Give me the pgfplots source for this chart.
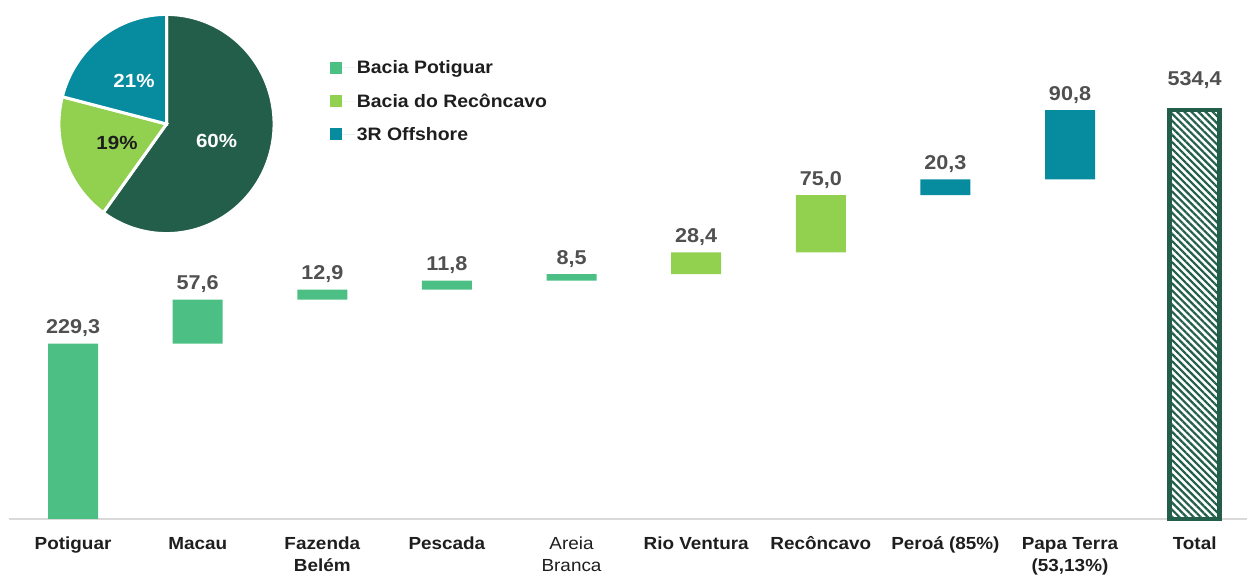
\documentclass[border=0pt]{standalone}
\usepackage{pgfplots}
\pgfplotsset{compat=1.18}
\usepackage{pgfplotstable}
\usepackage{fontspec}
\setmainfont[FakeStretch=1.08]{Liberation Sans}
\usetikzlibrary{patterns.meta}

\definecolor{cPot}{HTML}{4CC084}
\definecolor{cRec}{HTML}{92D050}
\definecolor{cOff}{HTML}{068B9F}
\definecolor{cDark}{HTML}{225E4A}
\definecolor{cVal}{HTML}{505050}
\definecolor{cCat}{HTML}{1E1E1E}
\definecolor{cAxis}{HTML}{D9D9D9}

% waterfall: invisible base + increments per group
\pgfplotstableread{
x base pot rec off
0 0 229.3 0 0
1 229.3 57.6 0 0
2 286.9 12.9 0 0
3 299.8 11.8 0 0
4 311.6 8.5 0 0
5 320.1 0 28.4 0
6 348.5 0 75.0 0
7 423.5 0 0 20.3
8 443.8 0 0 90.8
}\wf

\pgfplotstableread{
x top lab
0 229.3 229,3
1 286.9 57,6
2 299.8 12,9
3 311.6 11,8
4 320.1 8,5
5 348.5 28,4
6 423.5 75,0
7 443.8 20,3
8 534.6 90,8
}\labels

\pgfplotstableread{
x total lab
9 534.4 534,4
}\tot

% pie shares (%)
\def\pA{60}\def\pB{19}\def\pC{21}
\pgfmathsetmacro\angA{90-3.6*\pA}
\pgfmathsetmacro\angB{90-3.6*(\pA+\pB)}
\pgfmathsetmacro\angC{90-3.6*(\pA+\pB+\pC)}

\pgfplotstableread{
x y p
0.47 -0.157 60
-0.305 0.396 21
}\pielabW
\pgfplotstableread{
x y p
-0.465 -0.175 19
}\pielabD

\begin{document}
\begin{tikzpicture}
\path[use as bounding box] (0,0) rectangle (1247pt,575pt);

% main waterfall axis
\begin{axis}[
  at={(9pt,56pt)}, anchor=south west,
  scale only axis, width=1238pt, height=459pt,
  xmin=-0.514, xmax=9.42, ymin=0, ymax=600,
  ybar stacked, bar width=50pt,
  axis x line=bottom, axis y line=none,
  x axis line style={draw=cAxis, line width=1.8pt, -},
  xtick={0,...,9}, major tick length=0pt,
  xticklabels={\strut Potiguar, \strut Macau, {\strut Fazenda\\Belém}, \strut Pescada, {\mdseries\strut Areia\\\mdseries Branca}, \strut Rio Ventura, \strut Recôncavo, \strut Peroá (85\%), {\strut Papa Terra\\(53,13\%)}, \strut Total},
  xticklabel style={font=\fontsize{17.5}{22}\selectfont\bfseries, align=center, text=cCat, anchor=north, yshift=-12pt},
  ytick=\empty,
  legend style={at={(axis description cs:0.2566,1.0076)}, anchor=north west, draw=none, fill=none,
    font=\fontsize{18}{20}\selectfont\bfseries, text=cCat, row sep=14.5pt},
  legend cell align=left,
  legend image code/.code={\path[#1, draw=none] (0pt,-6pt) rectangle (12pt,6pt); \path (0pt,0pt) -- (25pt,0pt);},
]
\addplot[draw=none, fill=none, forget plot] table[x=x,y=base]{\wf};
\addplot[draw=none, fill=cPot] table[x=x,y=pot]{\wf};
\addplot[draw=none, fill=cRec] table[x=x,y=rec]{\wf};
\addplot[draw=none, fill=cOff] table[x=x,y=off]{\wf};
\legend{Bacia Potiguar, Bacia do Recôncavo, 3R Offshore}
\end{axis}

% overlay: total bar and value labels
\begin{axis}[
  at={(9pt,56pt)}, anchor=south west,
  scale only axis, width=1238pt, height=459pt,
  xmin=-0.514, xmax=9.42, ymin=0, ymax=600,
  hide axis, clip=false,
]
\addplot[ybar, bar width=50pt, fill=white, draw=cDark, line width=4.5pt,
  postaction={pattern={Lines[angle=-45,distance=5pt,line width=2.2pt]}, pattern color=cDark}]
  table[x=x,y=total]{\tot};
\addplot[only marks, mark=none,
  point meta=explicit symbolic, nodes near coords,
  every node near coord/.append style={font=\fontsize{20}{24}\selectfont\bfseries, text=cVal, anchor=base, yshift=10pt}]
  table[x=x,y=top,meta=lab]{\labels};
\addplot[only marks, mark=none,
  point meta=explicit symbolic, nodes near coords,
  every node near coord/.append style={font=\fontsize{20}{24}\selectfont\bfseries, text=cVal, anchor=base, yshift=25pt}]
  table[x=x,y=total,meta=lab]{\tot};
\end{axis}

% pie inset
\begin{axis}[
  at={(166.5pt,451pt)}, anchor=center,
  scale only axis, width=213pt, height=217pt,
  xmin=-1, xmax=1, ymin=-1, ymax=1,
  hide axis, clip=false,
]
\addplot[fill=cDark, draw=white, line width=3pt, domain=\angA:90, samples=120] ({1.01*cos(x)},{1.01*sin(x)}) -- (axis cs:0,0) -- cycle;
\addplot[fill=cRec, draw=white, line width=3pt, domain=\angB:\angA, samples=60] ({1.01*cos(x)},{1.01*sin(x)}) -- (axis cs:0,0) -- cycle;
\addplot[fill=cOff, draw=white, line width=3pt, domain=\angC:\angB, samples=60] ({1.01*cos(x)},{1.01*sin(x)}) -- (axis cs:0,0) -- cycle;
\addplot[only marks, mark=none,
  point meta=explicit symbolic, nodes near coords={\pgfplotspointmeta\%},
  every node near coord/.append style={font=\fontsize{19}{22}\selectfont\bfseries, text=white, anchor=center}]
  table[x=x,y=y,meta=p]{\pielabW};
\addplot[only marks, mark=none,
  point meta=explicit symbolic, nodes near coords={\pgfplotspointmeta\%},
  every node near coord/.append style={font=\fontsize{19}{22}\selectfont\bfseries, text=cCat, anchor=center}]
  table[x=x,y=y,meta=p]{\pielabD};
\end{axis}
\end{tikzpicture}
\end{document}
